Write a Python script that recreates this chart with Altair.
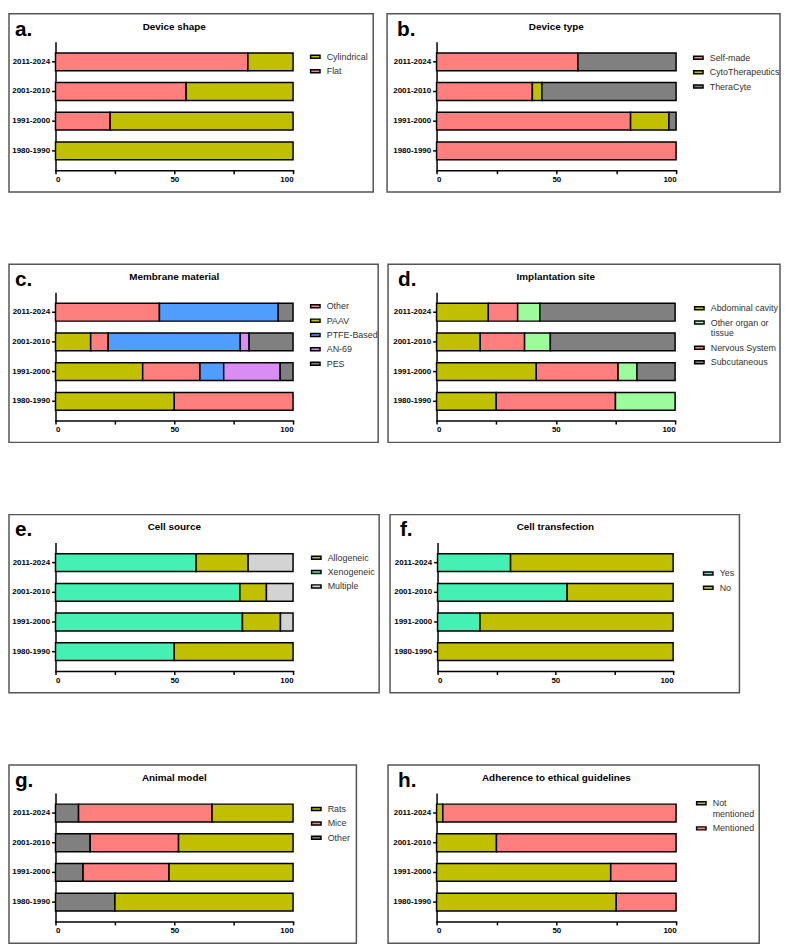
import altair as alt
import pandas as pd

FONT = "Liberation Sans, Arial, sans-serif"

periods = ["2011-2024", "2001-2010", "1991-2000", "1980-1990"]

PINK = "#FF7F7F"
OLIVE = "#C0C000"
GRAY = "#808080"
BLUE = "#4F9EFF"
VIOLET = "#DA8CF5"
LGREEN = "#9CFC9C"
TEAL = "#45F0B5"
LGRAY = "#D3D3D3"

# a. Device shape
shape_flat = [81, 55, 23, 0]
shape_cyl = [19, 45, 77, 100]
# b. Device type
type_self = [59, 40, 81, 100]
type_cyto = [0, 4, 16, 0]
type_thera = [41, 56, 3, 0]
# c. Membrane material
mem_paav = [0, 14.8, 36.7, 50]
mem_other = [43.75, 7.4, 24.1, 50]
mem_ptfe = [50, 55.6, 10, 0]
mem_an69 = [0, 3.7, 23.8, 0]
mem_pes = [6.25, 18.5, 5.4, 0]
# d. Implantation site
site_abd = [21.7, 18.3, 41.8, 25]
site_ns = [12.3, 18.6, 34.3, 50]
site_oth = [9.3, 10.8, 7.9, 25]
site_sub = [56.7, 52.3, 16.0, 0]
# e. Cell source
src_xeno = [59.2, 77.6, 78.7, 50]
src_allo = [21.9, 11.2, 16.0, 50]
src_mult = [18.9, 11.2, 5.3, 0]
# f. Cell transfection
tr_yes = [31, 55, 18, 0]
tr_no = [69, 45, 82, 100]
# g. Animal model
an_other = [9.7, 14.6, 11.6, 25]
an_mice = [56.2, 37.2, 36.2, 0]
an_rats = [34.1, 48.2, 52.2, 75]
# h. Adherence to ethical guidelines
eth_not = [2.6, 25, 72.7, 75]
eth_yes = [97.4, 75, 27.3, 25]

BOX_H = 180
Y0, Y1 = 29, 158


def panel(letter, title, series, legend_order, box_w, x0, plot_w, leg_x, leg_y,
          letter_x, label_expr=None):
    rows = []
    for k, (name, vals, color) in enumerate(series):
        for p, v in zip(periods, vals):
            if v > 0:
                rows.append({"period": p, "cat": name, "value": v, "ord": k})
    df = pd.DataFrame(rows)
    cmap = {n: c for n, _, c in series}
    leg_kwargs = dict(
        orient="none", legendX=leg_x, legendY=leg_y, title=None,
        symbolType="M-1,-0.32H1V0.32H-1Z", symbolSize=90,
        symbolStrokeColor="black", symbolStrokeWidth=1.5,
        labelFont=FONT, labelFontSize=9, labelColor="#333",
        rowPadding=3.5, labelOffset=6, padding=0,
    )
    if label_expr:
        leg_kwargs["labelExpr"] = label_expr
    bars = alt.Chart(df).mark_bar(stroke="black", strokeWidth=1.5).encode(
        x=alt.X("value:Q", stack="zero", title=None,
                scale=alt.Scale(domain=[0, 100], range=[x0, x0 + plot_w], nice=False),
                axis=alt.Axis(values=[0, 25, 50, 75, 100],
                              labelExpr="datum.value % 50 == 0 ? datum.label : ''",
                              offset=-(BOX_H - Y1), grid=False)),
        y=alt.Y("period:N", sort=periods, title=None,
                scale=alt.Scale(range=[Y0, Y1], paddingInner=0.4, paddingOuter=0.35),
                axis=alt.Axis(offset=-x0, grid=False)),
        color=alt.Color("cat:N",
                        scale=alt.Scale(domain=legend_order,
                                        range=[cmap[n] for n in legend_order]),
                        legend=alt.Legend(**leg_kwargs)),
        order=alt.Order("ord:Q"),
    )
    ttl = alt.Chart(pd.DataFrame({"t": [title]})).mark_text(
        font=FONT, fontSize=10, fontWeight="bold", align="center",
        baseline="top", color="black"
    ).encode(x=alt.value(x0 + plot_w / 2), y=alt.value(8), text="t:N")
    let = alt.Chart(pd.DataFrame({"t": [letter]})).mark_text(
        font=FONT, fontSize=21, fontWeight="bold", align="left",
        baseline="top", color="black"
    ).encode(x=alt.value(letter_x), y=alt.value(5), text="t:N")
    return alt.layer(bars, ttl, let).properties(width=box_w, height=BOX_H)


pa = panel("a.", "Device shape",
           [("Flat", shape_flat, PINK), ("Cylindrical", shape_cyl, OLIVE)],
           ["Cylindrical", "Flat"], 368, 47, 240, 304, 38, 6)
pb = panel("b.", "Device type",
           [("Self-made", type_self, PINK), ("CytoTherapeutics", type_cyto, OLIVE),
            ("TheraCyte", type_thera, GRAY)],
           ["Self-made", "CytoTherapeutics", "TheraCyte"], 397, 50, 242, 309, 39, 10)
pc = panel("c.", "Membrane material",
           [("PAAV", mem_paav, OLIVE), ("Other", mem_other, PINK),
            ("PTFE-Based", mem_ptfe, BLUE), ("AN-69", mem_an69, VIOLET),
            ("PES", mem_pes, GRAY)],
           ["Other", "PAAV", "PTFE-Based", "AN-69", "PES"], 373, 47, 240, 304, 37, 6)
pd_ = panel("d.", "Implantation site",
            [("Abdominal cavity", site_abd, OLIVE), ("Nervous System", site_ns, PINK),
             ("Other organ or tissue", site_oth, LGREEN), ("Subcutaneous", site_sub, GRAY)],
            ["Abdominal cavity", "Other organ or tissue", "Nervous System", "Subcutaneous"],
            396, 49, 241, 309, 39, 10,
            label_expr="datum.label == 'Other organ or tissue' ? ['Other organ or', 'tissue'] : datum.label")
pe = panel("e.", "Cell source",
           [("Xenogeneic", src_xeno, TEAL), ("Allogeneic", src_allo, OLIVE),
            ("Multiple", src_mult, LGRAY)],
           ["Allogeneic", "Xenogeneic", "Multiple"], 374, 47, 240, 305, 38, 6)
pf = panel("f.", "Cell transfection",
           [("Yes", tr_yes, TEAL), ("No", tr_no, OLIVE)],
           ["Yes", "No"], 353, 48, 238, 316, 54, 10)
pg = panel("g.", "Animal model",
           [("Other", an_other, GRAY), ("Mice", an_mice, PINK), ("Rats", an_rats, OLIVE)],
           ["Rats", "Mice", "Other"], 351, 47, 240, 305, 39, 6)
ph = panel("h.", "Adherence to ethical guidelines",
           [("Not mentioned", eth_not, OLIVE), ("Mentioned", eth_yes, PINK)],
           ["Not mentioned", "Mentioned"], 375, 49, 242, 311, 33, 10,
           label_expr="datum.label == 'Not mentioned' ? ['Not', 'mentioned'] : datum.label")


def row(left, right, sp):
    return alt.hconcat(left, right, spacing=sp).resolve_scale(
        color="independent").resolve_legend(color="independent")


row1 = row(pa, pb, 12)
row2 = row(pc, pd_, 8)
row3 = row(pe, pf, 9)
row4 = row(pg, ph, 30)

chart = alt.vconcat(row1, row2, row3, row4, spacing=71).resolve_scale(
    color="independent"
).resolve_legend(
    color="independent"
).properties(
    padding=0
).configure_view(
    stroke="#555", strokeWidth=1.5
).configure_axis(
    domainColor="black", domainWidth=1.5, domainCap="square",
    tickColor="black", tickWidth=1.5,
    labelFont=FONT, labelFontSize=8, labelFontWeight="bold", labelColor="black",
    grid=False,
).configure_axisY(
    tickSize=4, labelPadding=2
).configure_axisX(
    tickSize=3.5, labelPadding=2
)

chart.save("out.html", embed_options={"renderer": "svg", "actions": False})
